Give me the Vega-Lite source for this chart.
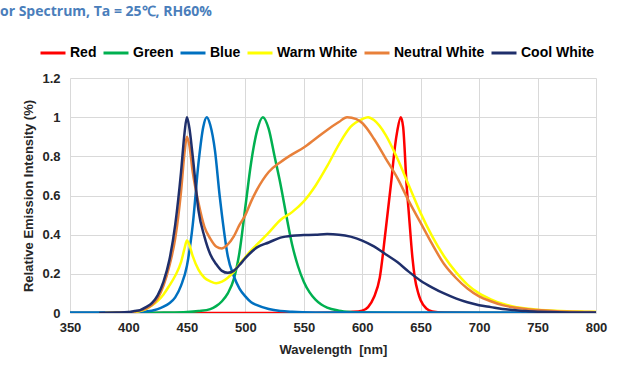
{
  "$schema": "https://vega.github.io/schema/vega-lite/v6.json",
  "width": 526,
  "height": 235,
  "autosize": {"type": "none"},
  "padding": {"left": 70, "top": 78, "right": 48, "bottom": 71},
  "background": "white",
  "title": {
    "text": "or Spectrum, Ta = 25℃, RH60%",
    "anchor": "start",
    "frame": "group",
    "orient": "top",
    "dx": -70,
    "offset": 20,
    "font": "Open Sans",
    "fontSize": 14,
    "fontWeight": "bold",
    "color": "#4A7EBB"
  },
  "data": {
    "values": [
      {"s":"Red","w":350,"v":0},{"s":"Red","w":400,"v":0},{"s":"Red","w":450,"v":0},{"s":"Red","w":500,"v":0},{"s":"Red","w":550,"v":0},{"s":"Red","w":580,"v":0.002},{"s":"Red","w":590,"v":0.005},{"s":"Red","w":600,"v":0.012},{"s":"Red","w":605,"v":0.03},{"s":"Red","w":610,"v":0.08},{"s":"Red","w":615,"v":0.18},{"s":"Red","w":620,"v":0.42},{"s":"Red","w":625,"v":0.68},{"s":"Red","w":628,"v":0.85},{"s":"Red","w":630,"v":0.93},{"s":"Red","w":633,"v":1.0},{"s":"Red","w":635,"v":0.95},{"s":"Red","w":638,"v":0.65},{"s":"Red","w":640,"v":0.5},{"s":"Red","w":643,"v":0.28},{"s":"Red","w":645,"v":0.18},{"s":"Red","w":648,"v":0.1},{"s":"Red","w":650,"v":0.065},{"s":"Red","w":655,"v":0.022},{"s":"Red","w":660,"v":0.008},{"s":"Red","w":670,"v":0.002},{"s":"Red","w":700,"v":0},{"s":"Red","w":750,"v":0},{"s":"Red","w":800,"v":0},
      {"s":"Green","w":350,"v":0},{"s":"Green","w":400,"v":0},{"s":"Green","w":430,"v":0.002},{"s":"Green","w":450,"v":0.005},{"s":"Green","w":460,"v":0.01},{"s":"Green","w":470,"v":0.02},{"s":"Green","w":475,"v":0.035},{"s":"Green","w":480,"v":0.06},{"s":"Green","w":485,"v":0.1},{"s":"Green","w":490,"v":0.17},{"s":"Green","w":495,"v":0.31},{"s":"Green","w":500,"v":0.54},{"s":"Green","w":505,"v":0.77},{"s":"Green","w":510,"v":0.93},{"s":"Green","w":515,"v":1.0},{"s":"Green","w":520,"v":0.94},{"s":"Green","w":525,"v":0.8},{"s":"Green","w":530,"v":0.66},{"s":"Green","w":535,"v":0.5},{"s":"Green","w":540,"v":0.35},{"s":"Green","w":545,"v":0.24},{"s":"Green","w":550,"v":0.16},{"s":"Green","w":555,"v":0.105},{"s":"Green","w":560,"v":0.068},{"s":"Green","w":565,"v":0.043},{"s":"Green","w":570,"v":0.027},{"s":"Green","w":580,"v":0.012},{"s":"Green","w":590,"v":0.005},{"s":"Green","w":600,"v":0.002},{"s":"Green","w":650,"v":0},{"s":"Green","w":700,"v":0},{"s":"Green","w":800,"v":0},
      {"s":"Blue","w":350,"v":0.003},{"s":"Blue","w":380,"v":0.003},{"s":"Blue","w":400,"v":0.004},{"s":"Blue","w":410,"v":0.006},{"s":"Blue","w":420,"v":0.012},{"s":"Blue","w":425,"v":0.02},{"s":"Blue","w":430,"v":0.032},{"s":"Blue","w":435,"v":0.05},{"s":"Blue","w":440,"v":0.08},{"s":"Blue","w":445,"v":0.14},{"s":"Blue","w":450,"v":0.24},{"s":"Blue","w":455,"v":0.45},{"s":"Blue","w":460,"v":0.77},{"s":"Blue","w":464,"v":0.95},{"s":"Blue","w":467,"v":1.0},{"s":"Blue","w":470,"v":0.96},{"s":"Blue","w":474,"v":0.83},{"s":"Blue","w":478,"v":0.6},{"s":"Blue","w":480,"v":0.5},{"s":"Blue","w":485,"v":0.29},{"s":"Blue","w":490,"v":0.19},{"s":"Blue","w":495,"v":0.125},{"s":"Blue","w":500,"v":0.085},{"s":"Blue","w":505,"v":0.055},{"s":"Blue","w":510,"v":0.04},{"s":"Blue","w":520,"v":0.02},{"s":"Blue","w":530,"v":0.01},{"s":"Blue","w":540,"v":0.006},{"s":"Blue","w":560,"v":0.003},{"s":"Blue","w":600,"v":0.002},{"s":"Blue","w":700,"v":0.002},{"s":"Blue","w":800,"v":0.002},
      {"s":"Warm White","w":380,"v":0},{"s":"Warm White","w":400,"v":0.002},{"s":"Warm White","w":405,"v":0.004},{"s":"Warm White","w":410,"v":0.01},{"s":"Warm White","w":415,"v":0.02},{"s":"Warm White","w":420,"v":0.038},{"s":"Warm White","w":425,"v":0.062},{"s":"Warm White","w":430,"v":0.095},{"s":"Warm White","w":435,"v":0.14},{"s":"Warm White","w":440,"v":0.19},{"s":"Warm White","w":445,"v":0.26},{"s":"Warm White","w":448,"v":0.33},{"s":"Warm White","w":450,"v":0.37},{"s":"Warm White","w":452,"v":0.35},{"s":"Warm White","w":455,"v":0.29},{"s":"Warm White","w":460,"v":0.22},{"s":"Warm White","w":465,"v":0.18},{"s":"Warm White","w":470,"v":0.162},{"s":"Warm White","w":475,"v":0.152},{"s":"Warm White","w":480,"v":0.16},{"s":"Warm White","w":485,"v":0.18},{"s":"Warm White","w":490,"v":0.21},{"s":"Warm White","w":495,"v":0.25},{"s":"Warm White","w":500,"v":0.285},{"s":"Warm White","w":505,"v":0.32},{"s":"Warm White","w":510,"v":0.35},{"s":"Warm White","w":515,"v":0.38},{"s":"Warm White","w":520,"v":0.41},{"s":"Warm White","w":530,"v":0.475},{"s":"Warm White","w":540,"v":0.515},{"s":"Warm White","w":550,"v":0.57},{"s":"Warm White","w":560,"v":0.65},{"s":"Warm White","w":570,"v":0.75},{"s":"Warm White","w":580,"v":0.86},{"s":"Warm White","w":590,"v":0.95},{"s":"Warm White","w":600,"v":0.99},{"s":"Warm White","w":605,"v":1.0},{"s":"Warm White","w":610,"v":0.985},{"s":"Warm White","w":620,"v":0.91},{"s":"Warm White","w":630,"v":0.79},{"s":"Warm White","w":640,"v":0.65},{"s":"Warm White","w":650,"v":0.51},{"s":"Warm White","w":660,"v":0.39},{"s":"Warm White","w":670,"v":0.29},{"s":"Warm White","w":680,"v":0.21},{"s":"Warm White","w":690,"v":0.145},{"s":"Warm White","w":700,"v":0.1},{"s":"Warm White","w":710,"v":0.07},{"s":"Warm White","w":720,"v":0.047},{"s":"Warm White","w":730,"v":0.032},{"s":"Warm White","w":740,"v":0.023},{"s":"Warm White","w":750,"v":0.017},{"s":"Warm White","w":760,"v":0.013},{"s":"Warm White","w":770,"v":0.01},{"s":"Warm White","w":780,"v":0.008},{"s":"Warm White","w":790,"v":0.007},{"s":"Warm White","w":800,"v":0.006},
      {"s":"Neutral White","w":380,"v":0},{"s":"Neutral White","w":395,"v":0.002},{"s":"Neutral White","w":400,"v":0.004},{"s":"Neutral White","w":405,"v":0.007},{"s":"Neutral White","w":410,"v":0.012},{"s":"Neutral White","w":415,"v":0.022},{"s":"Neutral White","w":420,"v":0.04},{"s":"Neutral White","w":425,"v":0.075},{"s":"Neutral White","w":430,"v":0.14},{"s":"Neutral White","w":435,"v":0.24},{"s":"Neutral White","w":440,"v":0.38},{"s":"Neutral White","w":445,"v":0.62},{"s":"Neutral White","w":448,"v":0.82},{"s":"Neutral White","w":450,"v":0.9},{"s":"Neutral White","w":452,"v":0.86},{"s":"Neutral White","w":455,"v":0.72},{"s":"Neutral White","w":460,"v":0.56},{"s":"Neutral White","w":465,"v":0.44},{"s":"Neutral White","w":470,"v":0.38},{"s":"Neutral White","w":475,"v":0.34},{"s":"Neutral White","w":480,"v":0.33},{"s":"Neutral White","w":485,"v":0.35},{"s":"Neutral White","w":490,"v":0.39},{"s":"Neutral White","w":495,"v":0.45},{"s":"Neutral White","w":500,"v":0.5},{"s":"Neutral White","w":505,"v":0.57},{"s":"Neutral White","w":510,"v":0.63},{"s":"Neutral White","w":515,"v":0.68},{"s":"Neutral White","w":520,"v":0.72},{"s":"Neutral White","w":530,"v":0.77},{"s":"Neutral White","w":540,"v":0.81},{"s":"Neutral White","w":550,"v":0.845},{"s":"Neutral White","w":560,"v":0.89},{"s":"Neutral White","w":570,"v":0.935},{"s":"Neutral White","w":580,"v":0.975},{"s":"Neutral White","w":587,"v":1.0},{"s":"Neutral White","w":595,"v":0.99},{"s":"Neutral White","w":600,"v":0.97},{"s":"Neutral White","w":610,"v":0.89},{"s":"Neutral White","w":620,"v":0.79},{"s":"Neutral White","w":630,"v":0.69},{"s":"Neutral White","w":640,"v":0.57},{"s":"Neutral White","w":650,"v":0.46},{"s":"Neutral White","w":660,"v":0.35},{"s":"Neutral White","w":670,"v":0.25},{"s":"Neutral White","w":680,"v":0.18},{"s":"Neutral White","w":690,"v":0.125},{"s":"Neutral White","w":700,"v":0.085},{"s":"Neutral White","w":710,"v":0.06},{"s":"Neutral White","w":720,"v":0.04},{"s":"Neutral White","w":730,"v":0.028},{"s":"Neutral White","w":740,"v":0.02},{"s":"Neutral White","w":750,"v":0.015},{"s":"Neutral White","w":760,"v":0.011},{"s":"Neutral White","w":770,"v":0.008},{"s":"Neutral White","w":780,"v":0.006},{"s":"Neutral White","w":790,"v":0.005},{"s":"Neutral White","w":800,"v":0.004},
      {"s":"Cool White","w":375,"v":0},{"s":"Cool White","w":390,"v":0.002},{"s":"Cool White","w":400,"v":0.005},{"s":"Cool White","w":405,"v":0.01},{"s":"Cool White","w":410,"v":0.015},{"s":"Cool White","w":415,"v":0.03},{"s":"Cool White","w":420,"v":0.05},{"s":"Cool White","w":425,"v":0.09},{"s":"Cool White","w":430,"v":0.16},{"s":"Cool White","w":435,"v":0.27},{"s":"Cool White","w":440,"v":0.45},{"s":"Cool White","w":445,"v":0.72},{"s":"Cool White","w":448,"v":0.92},{"s":"Cool White","w":450,"v":1.0},{"s":"Cool White","w":452,"v":0.95},{"s":"Cool White","w":455,"v":0.8},{"s":"Cool White","w":460,"v":0.52},{"s":"Cool White","w":465,"v":0.39},{"s":"Cool White","w":470,"v":0.3},{"s":"Cool White","w":475,"v":0.25},{"s":"Cool White","w":480,"v":0.215},{"s":"Cool White","w":485,"v":0.205},{"s":"Cool White","w":490,"v":0.215},{"s":"Cool White","w":495,"v":0.245},{"s":"Cool White","w":500,"v":0.28},{"s":"Cool White","w":510,"v":0.335},{"s":"Cool White","w":520,"v":0.36},{"s":"Cool White","w":530,"v":0.385},{"s":"Cool White","w":540,"v":0.395},{"s":"Cool White","w":550,"v":0.398},{"s":"Cool White","w":560,"v":0.4},{"s":"Cool White","w":570,"v":0.403},{"s":"Cool White","w":580,"v":0.4},{"s":"Cool White","w":590,"v":0.39},{"s":"Cool White","w":600,"v":0.37},{"s":"Cool White","w":610,"v":0.34},{"s":"Cool White","w":620,"v":0.3},{"s":"Cool White","w":630,"v":0.26},{"s":"Cool White","w":640,"v":0.21},{"s":"Cool White","w":650,"v":0.165},{"s":"Cool White","w":660,"v":0.13},{"s":"Cool White","w":670,"v":0.1},{"s":"Cool White","w":680,"v":0.075},{"s":"Cool White","w":690,"v":0.055},{"s":"Cool White","w":700,"v":0.04},{"s":"Cool White","w":710,"v":0.03},{"s":"Cool White","w":720,"v":0.02},{"s":"Cool White","w":730,"v":0.015},{"s":"Cool White","w":740,"v":0.01},{"s":"Cool White","w":750,"v":0.007},{"s":"Cool White","w":760,"v":0.005},{"s":"Cool White","w":780,"v":0.003},{"s":"Cool White","w":800,"v":0.002}
    ]
  },
  "mark": {"type": "line", "interpolate": "monotone", "strokeWidth": 2.5, "clip": true},
  "encoding": {
    "x": {
      "field": "w",
      "type": "quantitative",
      "scale": {"domain": [350, 800], "nice": false},
      "axis": {
        "title": "Wavelength \u00a0[nm]",
        "values": [350, 400, 450, 500, 550, 600, 650, 700, 750, 800],
        "labelPadding": 8,
        "titlePadding": 9
      }
    },
    "y": {
      "field": "v",
      "type": "quantitative",
      "scale": {"domain": [0, 1.2], "nice": false},
      "axis": {
        "title": "Relative Emission Intensity (%)",
        "values": [0, 0.2, 0.4, 0.6, 0.8, 1, 1.2],
        "format": "~g",
        "labelPadding": 10,
        "titlePadding": 6
      }
    },
    "color": {
      "field": "s",
      "type": "nominal",
      "scale": {
        "domain": ["Red", "Green", "Blue", "Warm White", "Neutral White", "Cool White"],
        "range": ["#FF0000", "#00B050", "#0070C0", "#FFFF00", "#E8803A", "#1F2F6B"]
      },
      "legend": {
        "title": null,
        "orient": "none",
        "direction": "horizontal",
        "legendX": -31,
        "legendY": -39,
        "symbolType": "stroke",
        "symbolSize": 625,
        "symbolStrokeWidth": 3,
        "labelFont": "Liberation Sans",
        "labelFontSize": 14,
        "labelFontWeight": "bold",
        "labelColor": "#000000",
        "labelOffset": 3,
        "columnPadding": 0
      }
    },
    "order": {"field": "s"}
  },
  "config": {
    "view": {"stroke": null},
    "font": "Liberation Sans",
    "axis": {
      "labelFont": "Liberation Sans",
      "labelFontWeight": "bold",
      "labelFontSize": 13,
      "labelColor": "#262626",
      "labelFlush": false,
      "titleFont": "Liberation Sans",
      "titleFontWeight": "bold",
      "titleFontSize": 13,
      "titleColor": "#262626",
      "gridColor": "#D9D9D9",
      "gridWidth": 1,
      "domain": false,
      "ticks": false
    }
  }
}
